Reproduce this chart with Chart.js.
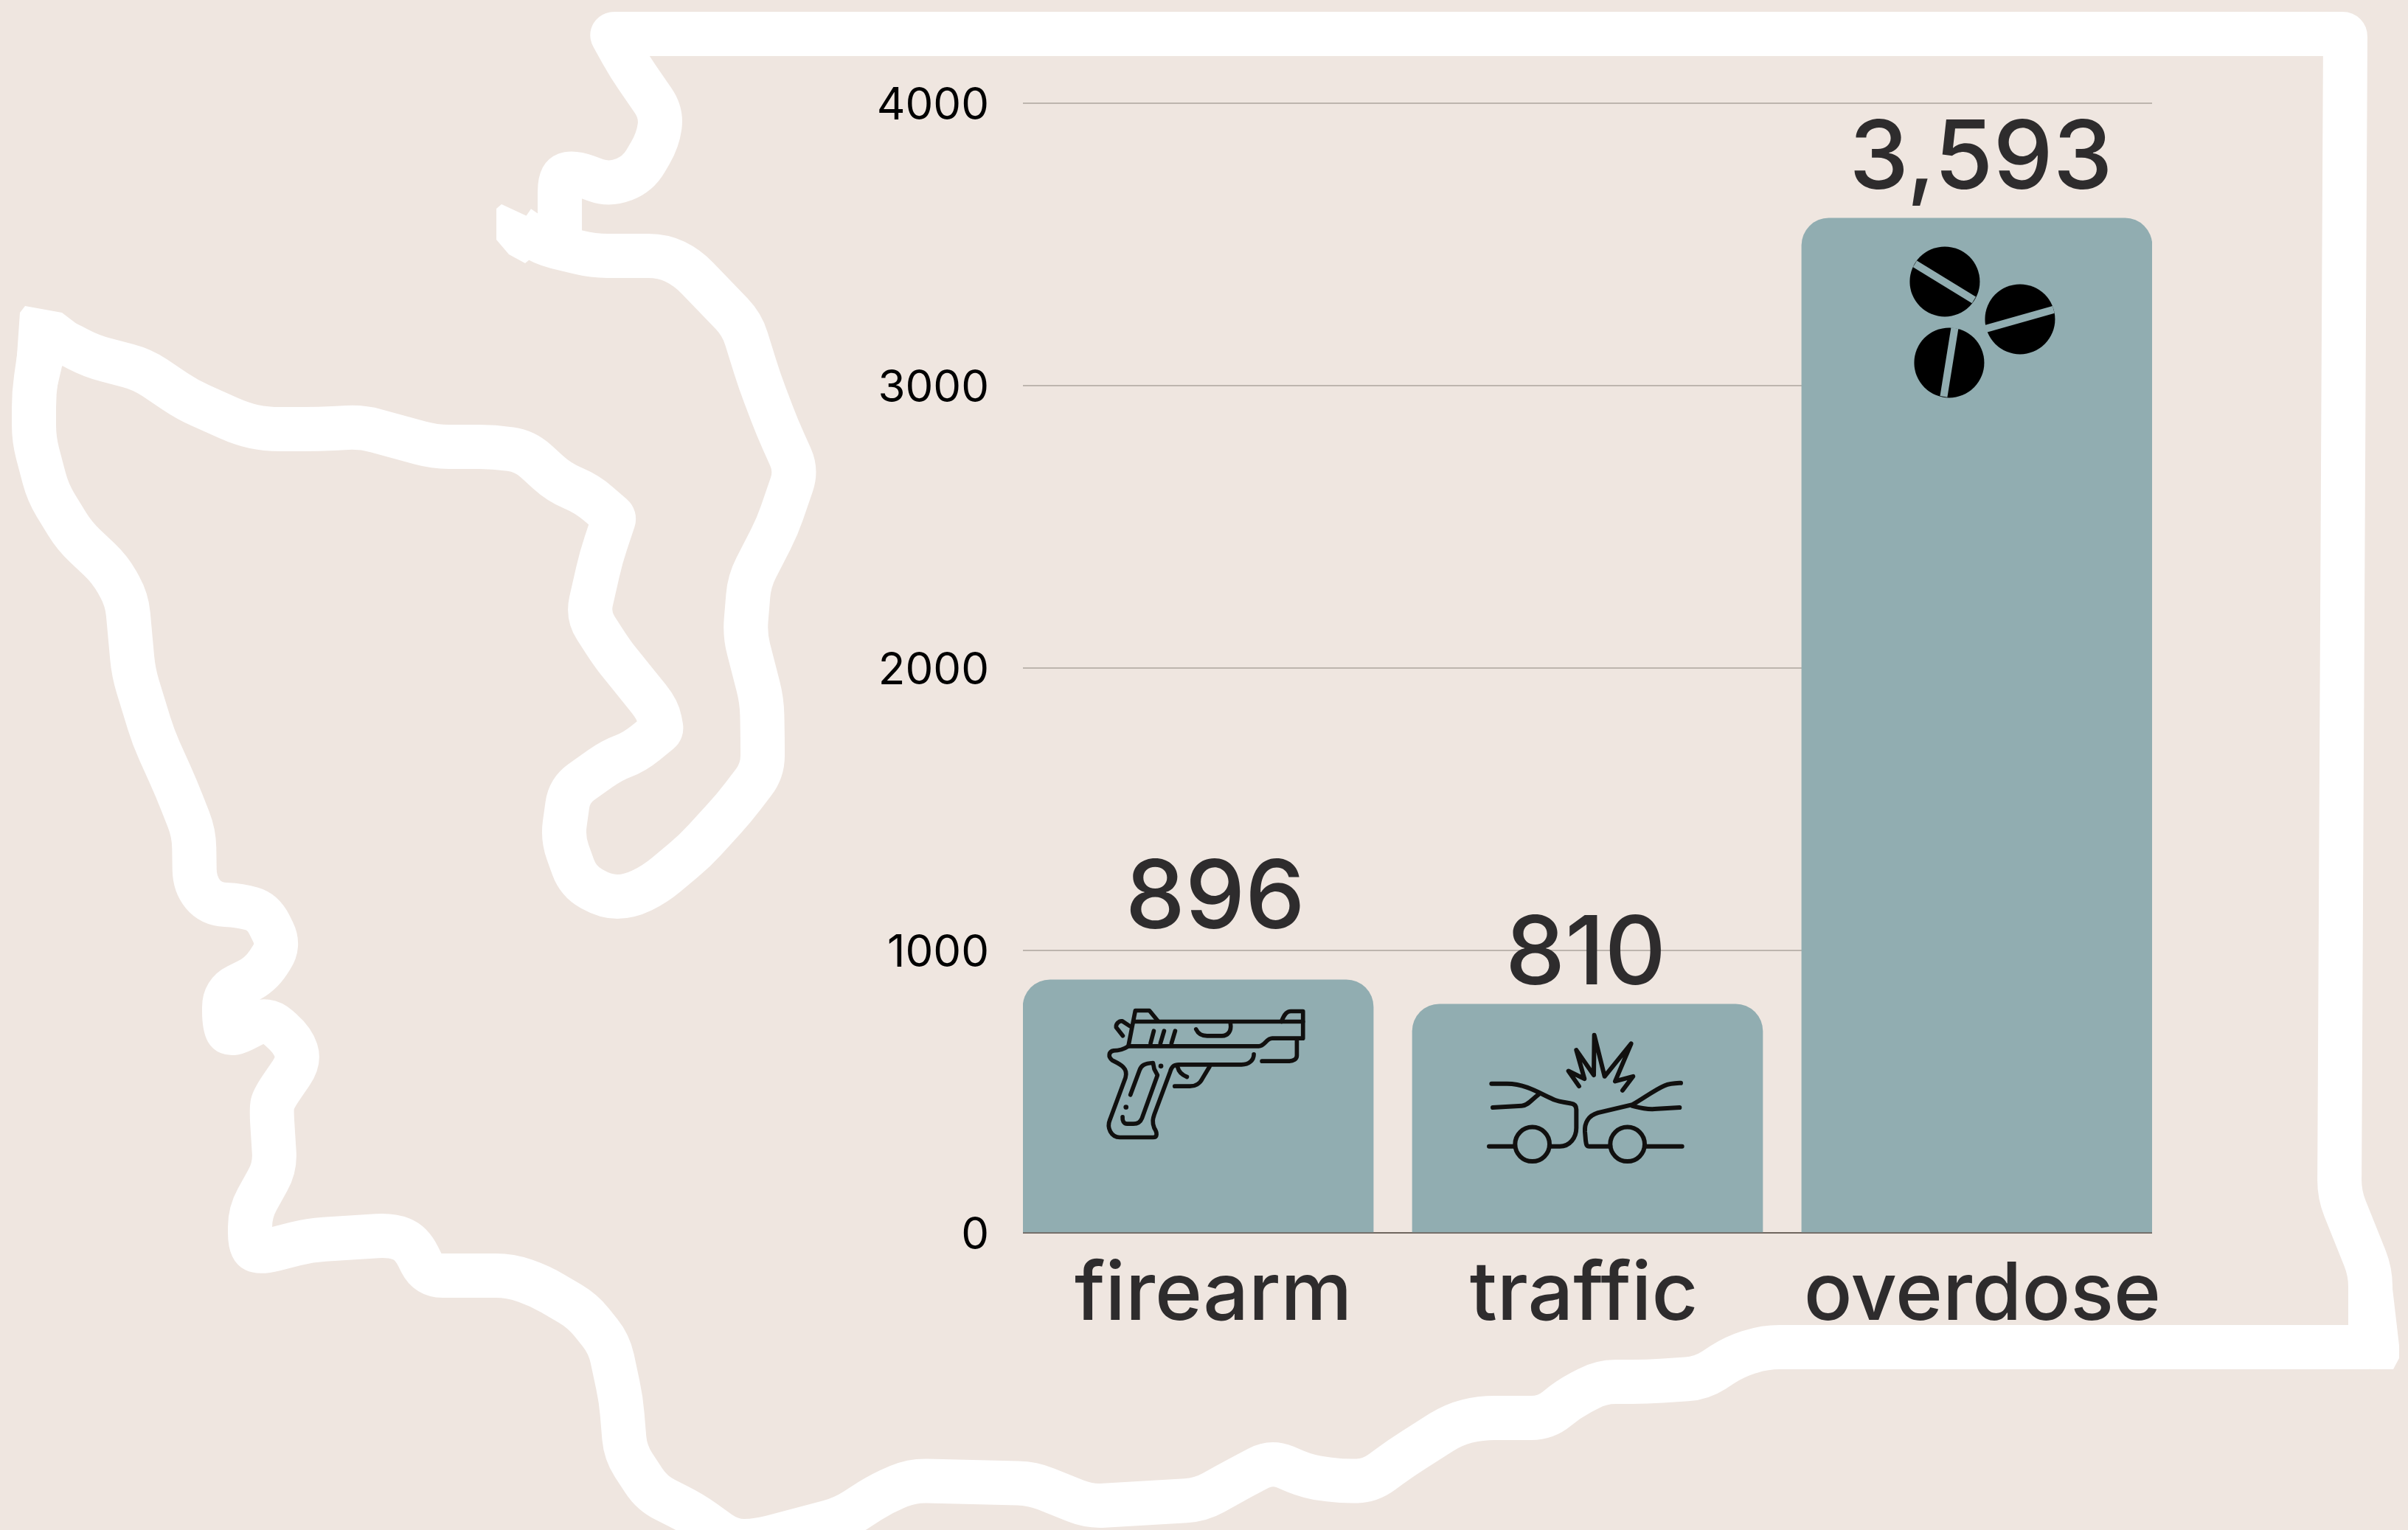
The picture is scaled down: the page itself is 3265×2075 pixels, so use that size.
<!DOCTYPE html>
<html>
<head>
<meta charset="utf-8">
<title>Washington deaths by cause</title>
<script src="https://cdn.jsdelivr.net/npm/chart.js@4"></script>
<style>
  html, body { margin: 0; padding: 0; background: #efe6e0; }
  canvas { display: block; }
</style>
</head>
<body>
<canvas id="chDeaths" width="3265" height="2075"></canvas>
<script>
// data
const categories = ['firearm', 'traffic', 'overdose'];
const deaths = [896, 810, 3593];
const yTicks = [0, 1000, 2000, 3000, 4000];

const BG = '#efe6e0';
const BAR = '#91adb1';
const TEXT = '#2e2c2d';
const FONT = 'Inter';

// labels in the picture are not quite centred on their bars
const xLabelShift = [0.039, -0.0095, 0.014];
const valueShift = [[23, -109], [-2.5, -66], [5.5, -79]];

// state outline, centre of the white stroke
const outline = [[759,335],[759,240],[777,233],[826,251],[865,236],[892,190],[897,153],[853,89],[829,46],
  [3180,46],[3172,1620],[3214,1725],[3214,1827],[2393,1827],[2352,1840],[2307,1869],[2233,1874],[2171,1874],
  [2126,1898],[2096,1923],[2007,1923],[1971,1932],[1900,1977],[1858,2008],[1822,2009],[1775,2003],[1724,1982],
  [1680,2005],[1628,2034],[1477,2043],[1400,2012],[1237,2008],[1196,2025],[1143,2059],[1027,2090],[991,2090],
  [938,2052],[884,2025],[848,1970],[842,1898],[826,1823],[790,1778],[732,1744],[692,1730],[580,1730],[558,1686],
  [531,1675],[420,1682],[353,1699],[339,1692],[339,1644],[373,1583],[368,1504],[371,1490],[406,1439],[397,1411],
  [362,1380],[312,1405],[304,1391],[304,1346],[353,1322],[379,1282],[357,1237],[326,1228],[286,1226],[264,1199],
  [263,1130],[239,1069],[208,1000],[181,912],[172,813],[149,772],[101,727],[65,668],[46,596],[46,533],[55,470],
  [80,460],[124,483],[193,501],[254,542],[328,575],[360,582],[432,582],[491,579],[589,606],[670,606],[712,612],
  [758,654],[796,670],[833,702],[815,756],[797,835],[830,886],[846,906],[892,963],[897,990],[860,1020],[830,1031],
  [772,1072],[763,1137],[784,1195],[821,1216],[853,1216],[888,1199],[942,1154],[995,1096],[1034,1045],[1034,1000],
  [1033,950],[1010,861],[1016,788],[1054,714],[1080,638],[1054,580],[1030,517],[1006,440],[932,363],[899,347],
  [804,347],[735,330],[703,308]];
const sharpCorners = ['829,46', '3180,46', '3214,1827', '833,702', '897,990', '55,470'];
const tipA = [[673,283],[680,277],[723,297],[745,330],[712,357],[690,345],[673,325]];
const tipB = [[27,424],[34,415],[84,424],[122,453],[84,497],[75,536],[20,525]];
const tipC = [[3214,1722],[3241,1722],[3253,1825],[3253,1842],[3245,1857],[3214,1857]];

function fillPoly(ctx, pts) {
  ctx.beginPath();
  pts.forEach((p, i) => i ? ctx.lineTo(p[0], p[1]) : ctx.moveTo(p[0], p[1]));
  ctx.closePath();
  ctx.fill();
}

function strokeRounded(ctx, pts, radius) {
  ctx.beginPath();
  ctx.moveTo(pts[0][0], pts[0][1]);
  for (let i = 1; i < pts.length - 1; i++) {
    const p = pts[i], a = pts[i - 1], b = pts[i + 1];
    const r = sharpCorners.includes(p[0] + ',' + p[1]) ? 4 : radius;
    const la = Math.hypot(a[0] - p[0], a[1] - p[1]), lb = Math.hypot(b[0] - p[0], b[1] - p[1]);
    const ra = Math.min(r, la / 2) / la, rb = Math.min(r, lb / 2) / lb;
    ctx.lineTo(p[0] + (a[0] - p[0]) * ra, p[1] + (a[1] - p[1]) * ra);
    ctx.quadraticCurveTo(p[0], p[1], p[0] + (b[0] - p[0]) * rb, p[1] + (b[1] - p[1]) * rb);
  }
  ctx.lineTo(pts[pts.length - 1][0], pts[pts.length - 1][1]);
  ctx.stroke();
}

const statePlugin = {
  id: 'stateOutline',
  beforeDraw(chart) {
    const ctx = chart.ctx;
    ctx.save();
    ctx.fillStyle = BG;
    ctx.fillRect(0, 0, chart.width, chart.height);
    ctx.strokeStyle = '#ffffff';
    ctx.fillStyle = '#ffffff';
    ctx.lineWidth = 60;
    ctx.lineJoin = 'round';
    ctx.lineCap = 'butt';
    strokeRounded(ctx, outline, 20);
    [tipA, tipB, tipC].forEach(t => fillPoly(ctx, t));
    ctx.restore();
  }
};

// icon shapes, in 3x local units
const gunPaths = [
  'M240 235L268 92L325 92L360 135', 'M262 137L950 137',
  'M862 137C875 105 885 95 900 95L950 95L950 205L825 205C800 205 795 237 770 237L240 237',
  'M330 225L343 175', 'M370 225L385 175', 'M415 225L430 175',
  'M515 168C525 190 540 195 560 195L620 195C645 195 660 175 655 145',
  'M245 155L215 135C200 133 188 148 190 160L217 195',
  'M925 210L925 275C925 290 910 298 895 298L783 298',
  'M240 237C220 250 200 255 180 255C160 258 155 280 175 295C205 310 240 325 228 365L165 535C150 570 170 608 205 608L340 608C358 608 358 590 345 570C335 545 340 530 345 515L410 340C415 320 425 312 445 312L700 312C730 312 750 295 750 270',
  'M248 435L285 335C292 315 305 307 340 305L345 330L358 355L295 530C288 548 275 553 260 553L235 553C220 553 215 540 216 525',
  'M570 320L540 370C530 390 510 400 490 400L428 400', 'M440 322C445 345 460 355 478 362'
];
const carPaths = [
  'M127 270L190 270C250 270 300 295 345 318C380 335 395 342 420 345L450 350C465 352 472 362 472 375L472 450C472 490 445 525 405 525L365 525',
  'M117 525L222 525', 'M132 367L250 360C275 358 290 335 320 312',
  'M610 525L525 525C512 525 512 515 510 500L507 465C505 430 520 400 560 388L700 355C745 330 790 295 830 278C855 268 875 268 897 267',
  'M700 360C730 368 750 375 790 373L892 367', 'M755 525L902 525',
  'M483 280L440 218L505 250L472 133L543 235L545 72L587 240L695 107L630 260L703 240L660 297'
];

function drawStrokes(ctx, paths, dots, circles, w) {
  ctx.strokeStyle = '#11100f';
  ctx.fillStyle = '#11100f';
  ctx.lineWidth = w;
  ctx.lineCap = 'round';
  ctx.lineJoin = 'round';
  paths.forEach(d => ctx.stroke(new Path2D(d)));
  dots.forEach(d => { ctx.beginPath(); ctx.arc(d[0], d[1], 10, 0, Math.PI * 2); ctx.fill(); });
  circles.forEach(c => { ctx.beginPath(); ctx.arc(c[0], c[1], c[2], 0, Math.PI * 2); ctx.stroke(); });
}

function drawPill(ctx, cx, cy, x1, y1, x2, y2) {
  ctx.fillStyle = '#000000';
  ctx.beginPath();
  ctx.arc(cx, cy, 47.5, 0, Math.PI * 2);
  ctx.fill();
  ctx.strokeStyle = BAR;
  ctx.lineWidth = 10;
  ctx.lineCap = 'butt';
  ctx.beginPath();
  ctx.moveTo(x1, y1);
  ctx.lineTo(x2, y2);
  ctx.stroke();
}

const iconPlugin = {
  id: 'barIcons',
  afterDatasetsDraw(chart) {
    const ctx = chart.ctx;
    const bars = chart.getDatasetMeta(0).data;

    ctx.save();
    ctx.translate(bars[0].x - 174.5, bars[0].y + 11);
    ctx.scale(1 / 3, 1 / 3);
    drawStrokes(ctx, gunPaths, [[230, 485], [372, 318]], [], 17);
    ctx.restore();

    ctx.save();
    ctx.translate(bars[1].x - 172.5, bars[1].y + 18);
    ctx.scale(1 / 3, 1 / 3);
    drawStrokes(ctx, carPaths, [], [[293, 516, 70], [680, 516, 70]], 18);
    ctx.restore();

    ctx.save();
    ctx.translate(bars[2].x, bars[2].y);
    drawPill(ctx, -43.5, 86, -84, 62, -4, 111);
    drawPill(ctx, 58.5, 137, 12, 150, 104, 124);
    drawPill(ctx, -37.5, 196, -30, 149, -45, 242);
    ctx.restore();

    // value labels
    ctx.save();
    ctx.fillStyle = TEXT;
    ctx.font = '500 129px ' + FONT;
    ctx.textAlign = 'center';
    ctx.textBaseline = 'middle';
    bars.forEach((b, i) => {
      ctx.fillText(deaths[i].toLocaleString('en-US'), b.x + valueShift[i][0], b.y + valueShift[i][1]);
    });
    ctx.restore();
  }
};

const chDeaths = document.getElementById('chDeaths');
new Chart(chDeaths, {
  type: 'bar',
  data: {
    datasets: [{
      data: deaths.map((v, i) => ({ x: i, y: v })),
      backgroundColor: BAR,
      borderWidth: 0,
      borderRadius: { topLeft: 37, topRight: 37, bottomLeft: 0, bottomRight: 0 },
      barThickness: 475
    }]
  },
  options: {
    responsive: false,
    animation: false,
    devicePixelRatio: 1,
    layout: { padding: { top: 140, right: 347, left: 0, bottom: 0 } },
    plugins: { legend: { display: false }, tooltip: { enabled: false } },
    scales: {
      x: {
        type: 'linear',
        min: -0.45,
        max: 2.45,
        offset: false,
        grid: { display: false },
        border: { display: false },
        afterFit: s => { s.height = 403; },
        afterBuildTicks: s => { s.ticks = categories.map((c, i) => ({ value: i + xLabelShift[i] })); },
        ticks: {
          autoSkip: false,
          maxRotation: 0,
          padding: 12,
          color: TEXT,
          font: { family: FONT, size: 109, weight: '500' },
          callback: v => categories[Math.round(v)]
        }
      },
      y: {
        min: 0,
        max: 4000,
        grid: {
          color: c => c.tick.value === 0 ? '#6f665f' : '#bdb5ae',
          lineWidth: 2,
          drawTicks: false
        },
        border: { display: false },
        afterFit: s => { s.width = 1387; },
        afterBuildTicks: s => { s.ticks = yTicks.map(v => ({ value: v })); },
        ticks: {
          padding: 46,
          labelOffset: 4,
          color: '#000000',
          font: { family: FONT, size: 60 },
          callback: v => String(v)
        }
      }
    }
  },
  plugins: [statePlugin, iconPlugin]
});
</script>
</body>
</html>
